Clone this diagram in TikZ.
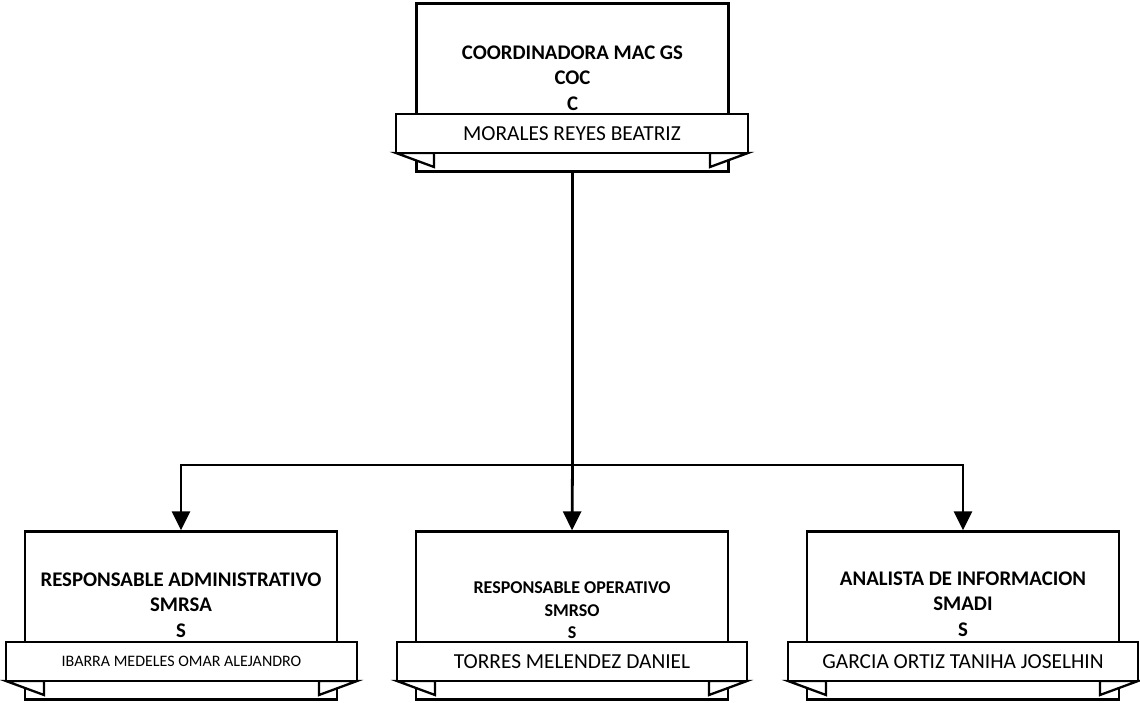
\documentclass[tikz,border=0pt]{standalone}
\usepackage{fontspec}
\setmainfont{Carlito}
\usetikzlibrary{arrows.meta}
\begin{document}
\begin{tikzpicture}[x=1pt,y=-1pt,
  box/.style={draw=black, line width=2.3pt, fill=white, minimum width=312pt, minimum height=168pt, inner sep=0pt},
  banner/.style={draw=black, line width=2.3pt, fill=white, minimum width=351pt, minimum height=39pt, inner sep=0pt, font=\fontsize{21.4}{25}\selectfont},
  smallbanner/.style={banner, font=\fontsize{16}{20}\selectfont},
  flap/.style={draw=black, line width=2.3pt, fill=white, line join=miter},
  title/.style={align=center, inner sep=0pt, font=\bfseries\fontsize{20.8}{25.5}\selectfont},
  smalltitle/.style={align=center, inner sep=0pt, font=\bfseries\fontsize{18}{22.5}\selectfont},
  conn/.style={line width=2.8pt},
  arr/.style={conn, -{Triangle[width=18pt,length=19pt]}}
]
\useasboundingbox[fill=white] (0,0) rectangle (1140,703);

% top
\node[box] (top) at (572.5,87.5) {};
\node[title] (toptitle) at (572.5,78) {COORDINADORA MAC GS\\COC\\C};
\draw[flap] (396,153) -- ++(38,14) -- ++(0,-14) -- cycle;
\draw[flap] (748,153) -- ++(-38,14) -- ++(0,-14) -- cycle;
\node[banner, minimum width=352pt] (topname) at (572,133.5) {MORALES REYES BEATRIZ};

% bottom left
\node[box] (b1) at (181,615.5) {};
\node[title] (b1title) at (181,605) {RESPONSABLE ADMINISTRATIVO\\SMRSA\\S};
\draw[flap] (6,681) -- ++(38,14) -- ++(0,-14) -- cycle;
\draw[flap] (357,681) -- ++(-38,14) -- ++(0,-14) -- cycle;
\node[smallbanner] (b1name) at (181.5,661.5) {IBARRA MEDELES OMAR ALEJANDRO};

% bottom middle
\node[box] (b2) at (572,615.5) {};
\node[smalltitle] (b2title) at (572,610.5) {RESPONSABLE OPERATIVO\\SMRSO\\S};
\draw[flap] (397,681) -- ++(38,14) -- ++(0,-14) -- cycle;
\draw[flap] (747,681) -- ++(-38,14) -- ++(0,-14) -- cycle;
\node[banner, minimum width=350pt] (b2name) at (572,661.5) {TORRES MELENDEZ DANIEL};

% bottom right
\node[box] (b3) at (963,615.5) {};
\node[title] (b3title) at (963,604) {ANALISTA DE INFORMACION\\SMADI\\S};
\draw[flap] (788,681) -- ++(38,14) -- ++(0,-14) -- cycle;
\draw[flap] (1138,681) -- ++(-38,14) -- ++(0,-14) -- cycle;
\node[banner, minimum width=350pt] (b3name) at (963,661.5) {GARCIA ORTIZ TANIHA JOSELHIN};

% connectors
\coordinate (bus) at (top.south |- 0,465);
\draw[conn] (top.south) -- (bus);
\draw[arr] (bus) -| (b1.north);
\draw[arr] (bus) -- (b2.north);
\draw[arr] (bus) -| (b3.north);
\end{tikzpicture}
\end{document}
